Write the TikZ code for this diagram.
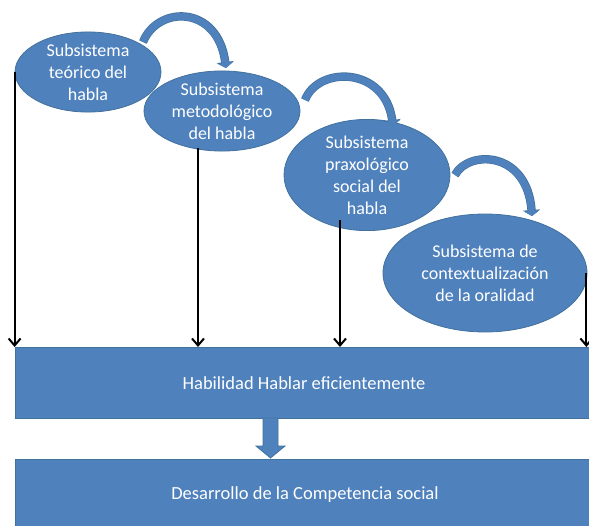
\documentclass[tikz,border=0pt]{standalone}
\usepackage{fontspec}
\setmainfont{Carlito}
\usetikzlibrary{arrows.meta,calc,shapes.geometric}
\definecolor{officeblue}{HTML}{4F81BD}
\definecolor{officeedge}{HTML}{41719C}
\tikzset{
  subsys/.style={ellipse, fill=officeblue, draw=officeedge, line width=0.8pt, inner sep=0pt,
    text=white, align=center, font=\fontsize{18}{22}\selectfont},
  bigbox/.style={rectangle, fill=officeblue, draw=officeedge, line width=0.8pt, inner sep=0pt},
  boxtext/.style={text=white, font=\fontsize{18.5}{22}\selectfont, inner sep=0pt},
  flow/.style={draw=black, line width=2pt, -{Straight Barb[length=7pt,width=12pt,line width=2pt]}},
  curved/.style={draw=officeblue, line width=7pt, -{Triangle[width=15pt,length=5pt]},
    preaction={draw=officeedge, line width=8.4pt, -{Triangle[width=17pt,length=6pt]}}},
}
\begin{document}
\begin{tikzpicture}[x=1pt,y=-1pt]
\useasboundingbox (0,0) rectangle (589,525);
% rectangles
\node[bigbox, minimum width=577pt, minimum height=71pt, anchor=north west] (r1) at (15,347) {};
\node[bigbox, minimum width=577pt, minimum height=80pt, anchor=north west] (r2) at (15,459) {};
\node[boxtext] (t1) at (304,383) {Habilidad Hablar eficientemente};
\node[boxtext] (t2) at (305,495) {Desarrollo de la Competencia social};
% ellipses
\node[subsys, minimum width=146pt, minimum height=72pt] (e1) at (88,72) {Subsistema\\teórico del\\habla};
\node[subsys, minimum width=156pt, minimum height=78pt] (e2) at (222,111) {Subsistema\\metodológico\\del habla};
\node[subsys, minimum width=166pt, minimum height=96pt] (e3) at (367,175) {Subsistema\\praxológico\\social del\\habla};
\node[subsys, minimum width=204pt, minimum height=118pt] (e4) at (485,273) {Subsistema de\\contextualización\\de la oralidad};
% curved arrows
\coordinate (c1s) at (143,42); \coordinate (c1e) at (226,68);
\coordinate (c2s) at (305,100); \coordinate (c2e) at (393,126);
\coordinate (c3s) at (455,175); \coordinate (c3e) at (532,216);
\draw[curved] (c1s) .. controls (158,5) and (218,5) .. (c1e);
\draw[curved] (c2s) .. controls (318,66) and (385,66) .. (c2e);
\draw[curved] (c3s) .. controls (468,150) and (527,150) .. (c3e);
% vertical arrows
\coordinate (a1) at (e1.west);
\coordinate (a2) at (198,148);
\coordinate (a3) at (340,220);
\coordinate (a4) at ([xshift=-1pt]e4.east);
\draw[flow] (a1) -- (a1 |- r1.north);
\draw[flow] (a2) -- (a2 |- r1.north);
\draw[flow] (a3) -- (a3 |- r1.north);
\draw[flow] (a4) -- (a4 |- r1.north);
% block arrow
\coordinate (ba) at (270.5,418);
\coordinate (bb) at (270.5,458);
\draw[fill=officeblue, draw=officeedge, line width=0.8pt]
  ($(ba)+(-7.5,0)$) -- ($(ba)+(7.5,0)$) -- ($(bb)+(7.5,-12)$) -- ($(bb)+(14.5,-12)$) -- (bb)
  -- ($(bb)+(-14.5,-12)$) -- ($(bb)+(-7.5,-12)$) -- cycle;
\end{tikzpicture}
\end{document}
